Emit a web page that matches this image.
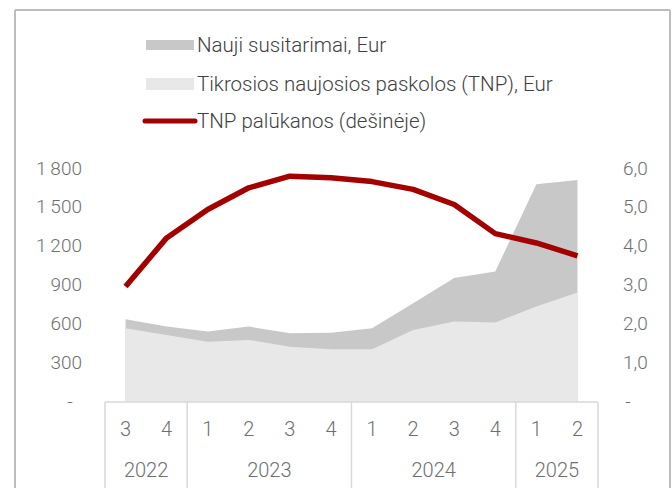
<!DOCTYPE html>
<html>
<head>
<meta charset="utf-8">
<script src="https://cdn.jsdelivr.net/npm/d3@7"></script>
<style>
  body { margin: 0; background: #fff; }
  svg { display: block; }
</style>
</head>
<body>
<script>
const quarters = ["3", "4", "1", "2", "3", "4", "1", "2", "3", "4", "1", "2"];
const years = ["2022", "2022", "2023", "2023", "2023", "2023", "2024", "2024", "2024", "2024", "2025", "2025"];
const newAgreements = [632, 575, 536, 575, 523, 528, 562, 756, 950, 1001, 1674, 1707];
const tnpVolume = [562, 510, 458, 472, 420, 399, 399, 549, 614, 606, 730, 838];
const tnpRate = [2.95, 4.2, 4.93, 5.49, 5.79, 5.75, 5.65, 5.45, 5.06, 4.31, 4.07, 3.74];
const leftTicks = [0, 300, 600, 900, 1200, 1500, 1800];
const rightTicks = [0, 1, 2, 3, 4, 5, 6];
const legendLabels = [
  "Nauji susitarimai, Eur",
  "Tikrosios naujosios paskolos (TNP), Eur",
  "TNP palūkanos (dešinėje)",
];

const width = 672;
const height = 488;
const plot = { left: 105, right: 598, top: 168, bottom: 401 };
const font = "Roboto, sans-serif";
const tickColor = "#6f6f6f";

const svg = d3
  .select("body")
  .append("svg")
  .attr("width", width)
  .attr("height", height);

// outer frame
const frame = svg.append("g").attr("stroke", "#bdbdbd").attr("stroke-width", 2);
frame.append("line").attr("x1", 15).attr("x2", 15).attr("y1", 10).attr("y2", height);
frame.append("line").attr("x1", 15).attr("x2", 670).attr("y1", 10).attr("y2", 10);
frame.append("line").attr("x1", 670).attr("x2", 670).attr("y1", 10).attr("y2", height);

const ids = quarters.map((q, i) => `${years[i]}Q${q}`);

const xScale = d3
  .scaleBand()
  .domain(ids)
  .range([plot.left, plot.right]);

const xMid = (i) => xScale(ids[i]) + xScale.bandwidth() / 2;

const yLeft = d3
  .scaleLinear()
  .domain([0, 1800])
  .range([plot.bottom, plot.top]);

const yRight = d3
  .scaleLinear()
  .domain([0, 6])
  .range([plot.bottom, plot.top]);

// areas
const area = (values) =>
  d3
    .area()
    .x((d, i) => xMid(i))
    .y0(yLeft(0) + 1)
    .y1((d) => yLeft(d))(values);

svg.append("path").attr("d", area(newAgreements)).attr("fill", "#c8c8c8");
svg.append("path").attr("d", area(tnpVolume)).attr("fill", "#e8e8e8");

// rate line
const line = d3
  .line()
  .x((d, i) => xMid(i))
  .y((d) => yRight(d));

svg
  .append("path")
  .attr("d", line(tnpRate))
  .attr("fill", "none")
  .attr("stroke", "#a30000")
  .attr("stroke-width", 5.5)
  .attr("stroke-linejoin", "round");

// y axes
const spaceFormat = (v) => d3.format(",")(v).replace(/,/g, "\u2009");

const leftAxis = d3
  .axisLeft(yLeft)
  .tickValues(leftTicks)
  .tickSize(0)
  .tickPadding(0)
  .tickFormat((d) => (d === 0 ? "-" : spaceFormat(d)));

const gLeft = svg.append("g").attr("transform", "translate(82 0)").call(leftAxis);

const rightAxis = d3
  .axisRight(yRight)
  .tickValues(rightTicks)
  .tickSize(0)
  .tickPadding(0)
  .tickFormat((d) => (d === 0 ? "-" : d3.format(".1f")(d).replace(".", ",")));

const gRight = svg.append("g").attr("transform", "translate(623 0)").call(rightAxis);

[gLeft, gRight].forEach((g) => {
  g.select(".domain").remove();
  g.selectAll("text")
    .attr("font-family", font)
    .attr("font-weight", 300)
    .attr("font-size", 19)
    .attr("fill", tickColor);
});

gLeft
  .selectAll("text")
  .filter((d) => d === 0)
  .attr("x", -12)
  .attr("text-anchor", "middle");

gRight
  .selectAll("text")
  .filter((d) => d === 0)
  .attr("x", 5)
  .attr("text-anchor", "middle");

// category axis box
const boxTop = plot.bottom + 1;
const axisGroup = svg.append("g");

axisGroup
  .append("line")
  .attr("x1", plot.left)
  .attr("x2", plot.right)
  .attr("y1", boxTop)
  .attr("y2", boxTop)
  .attr("stroke", "#d9d9d9")
  .attr("stroke-width", 1.5);

const yearGroups = d3.groups(ids.map((id, i) => ({ id, year: years[i] })), (d) => d.year);

const bounds = [plot.left].concat(
  yearGroups.map(([, items]) => xScale(items[items.length - 1].id) + xScale.bandwidth())
);

axisGroup
  .selectAll(".sep")
  .data(bounds)
  .enter()
  .append("line")
  .attr("x1", (d) => d)
  .attr("x2", (d) => d)
  .attr("y1", boxTop)
  .attr("y2", height)
  .attr("stroke", "#d9d9d9")
  .attr("stroke-width", 1.5);

const xAxis = d3
  .axisBottom(xScale)
  .tickSize(0)
  .tickPadding(0)
  .tickFormat((d, i) => quarters[i]);

const gX = axisGroup
  .append("g")
  .attr("transform", `translate(0 ${boxTop + 20})`)
  .call(xAxis);

gX.select(".domain").remove();
gX.selectAll("text")
  .attr("font-family", font)
  .attr("font-weight", 300)
  .attr("font-size", 20)
  .attr("fill", tickColor);

axisGroup
  .selectAll(".year")
  .data(yearGroups)
  .enter()
  .append("text")
  .attr("x", ([, items]) => {
    const a = xScale(items[0].id);
    const b = xScale(items[items.length - 1].id) + xScale.bandwidth();
    return (a + b) / 2;
  })
  .attr("y", 470)
  .attr("dy", "0.35em")
  .attr("text-anchor", "middle")
  .attr("font-family", font)
  .attr("font-weight", 300)
  .attr("font-size", 20)
  .attr("fill", tickColor)
  .text(([year]) => year);

// legend
const legend = svg.append("g");
const legendY = [45, 84, 121];

legend
  .append("rect")
  .attr("x", 146)
  .attr("y", legendY[0] - 5)
  .attr("width", 48)
  .attr("height", 10)
  .attr("fill", "#c8c8c8");

legend
  .append("rect")
  .attr("x", 146)
  .attr("y", legendY[1] - 6)
  .attr("width", 48)
  .attr("height", 12)
  .attr("fill", "#e8e8e8");

legend
  .append("line")
  .attr("x1", 145)
  .attr("x2", 195)
  .attr("y1", legendY[2])
  .attr("y2", legendY[2])
  .attr("stroke", "#a30000")
  .attr("stroke-width", 5)
  .attr("stroke-linecap", "round");

legend
  .selectAll(".label")
  .data(legendLabels)
  .enter()
  .append("text")
  .attr("x", 197)
  .attr("y", (d, i) => legendY[i])
  .attr("dy", "0.35em")
  .attr("font-family", font)
  .attr("font-weight", 300)
  .attr("font-size", 20.5)
  .attr("fill", "#404040")
  .text((d) => d);
</script>
</body>
</html>
